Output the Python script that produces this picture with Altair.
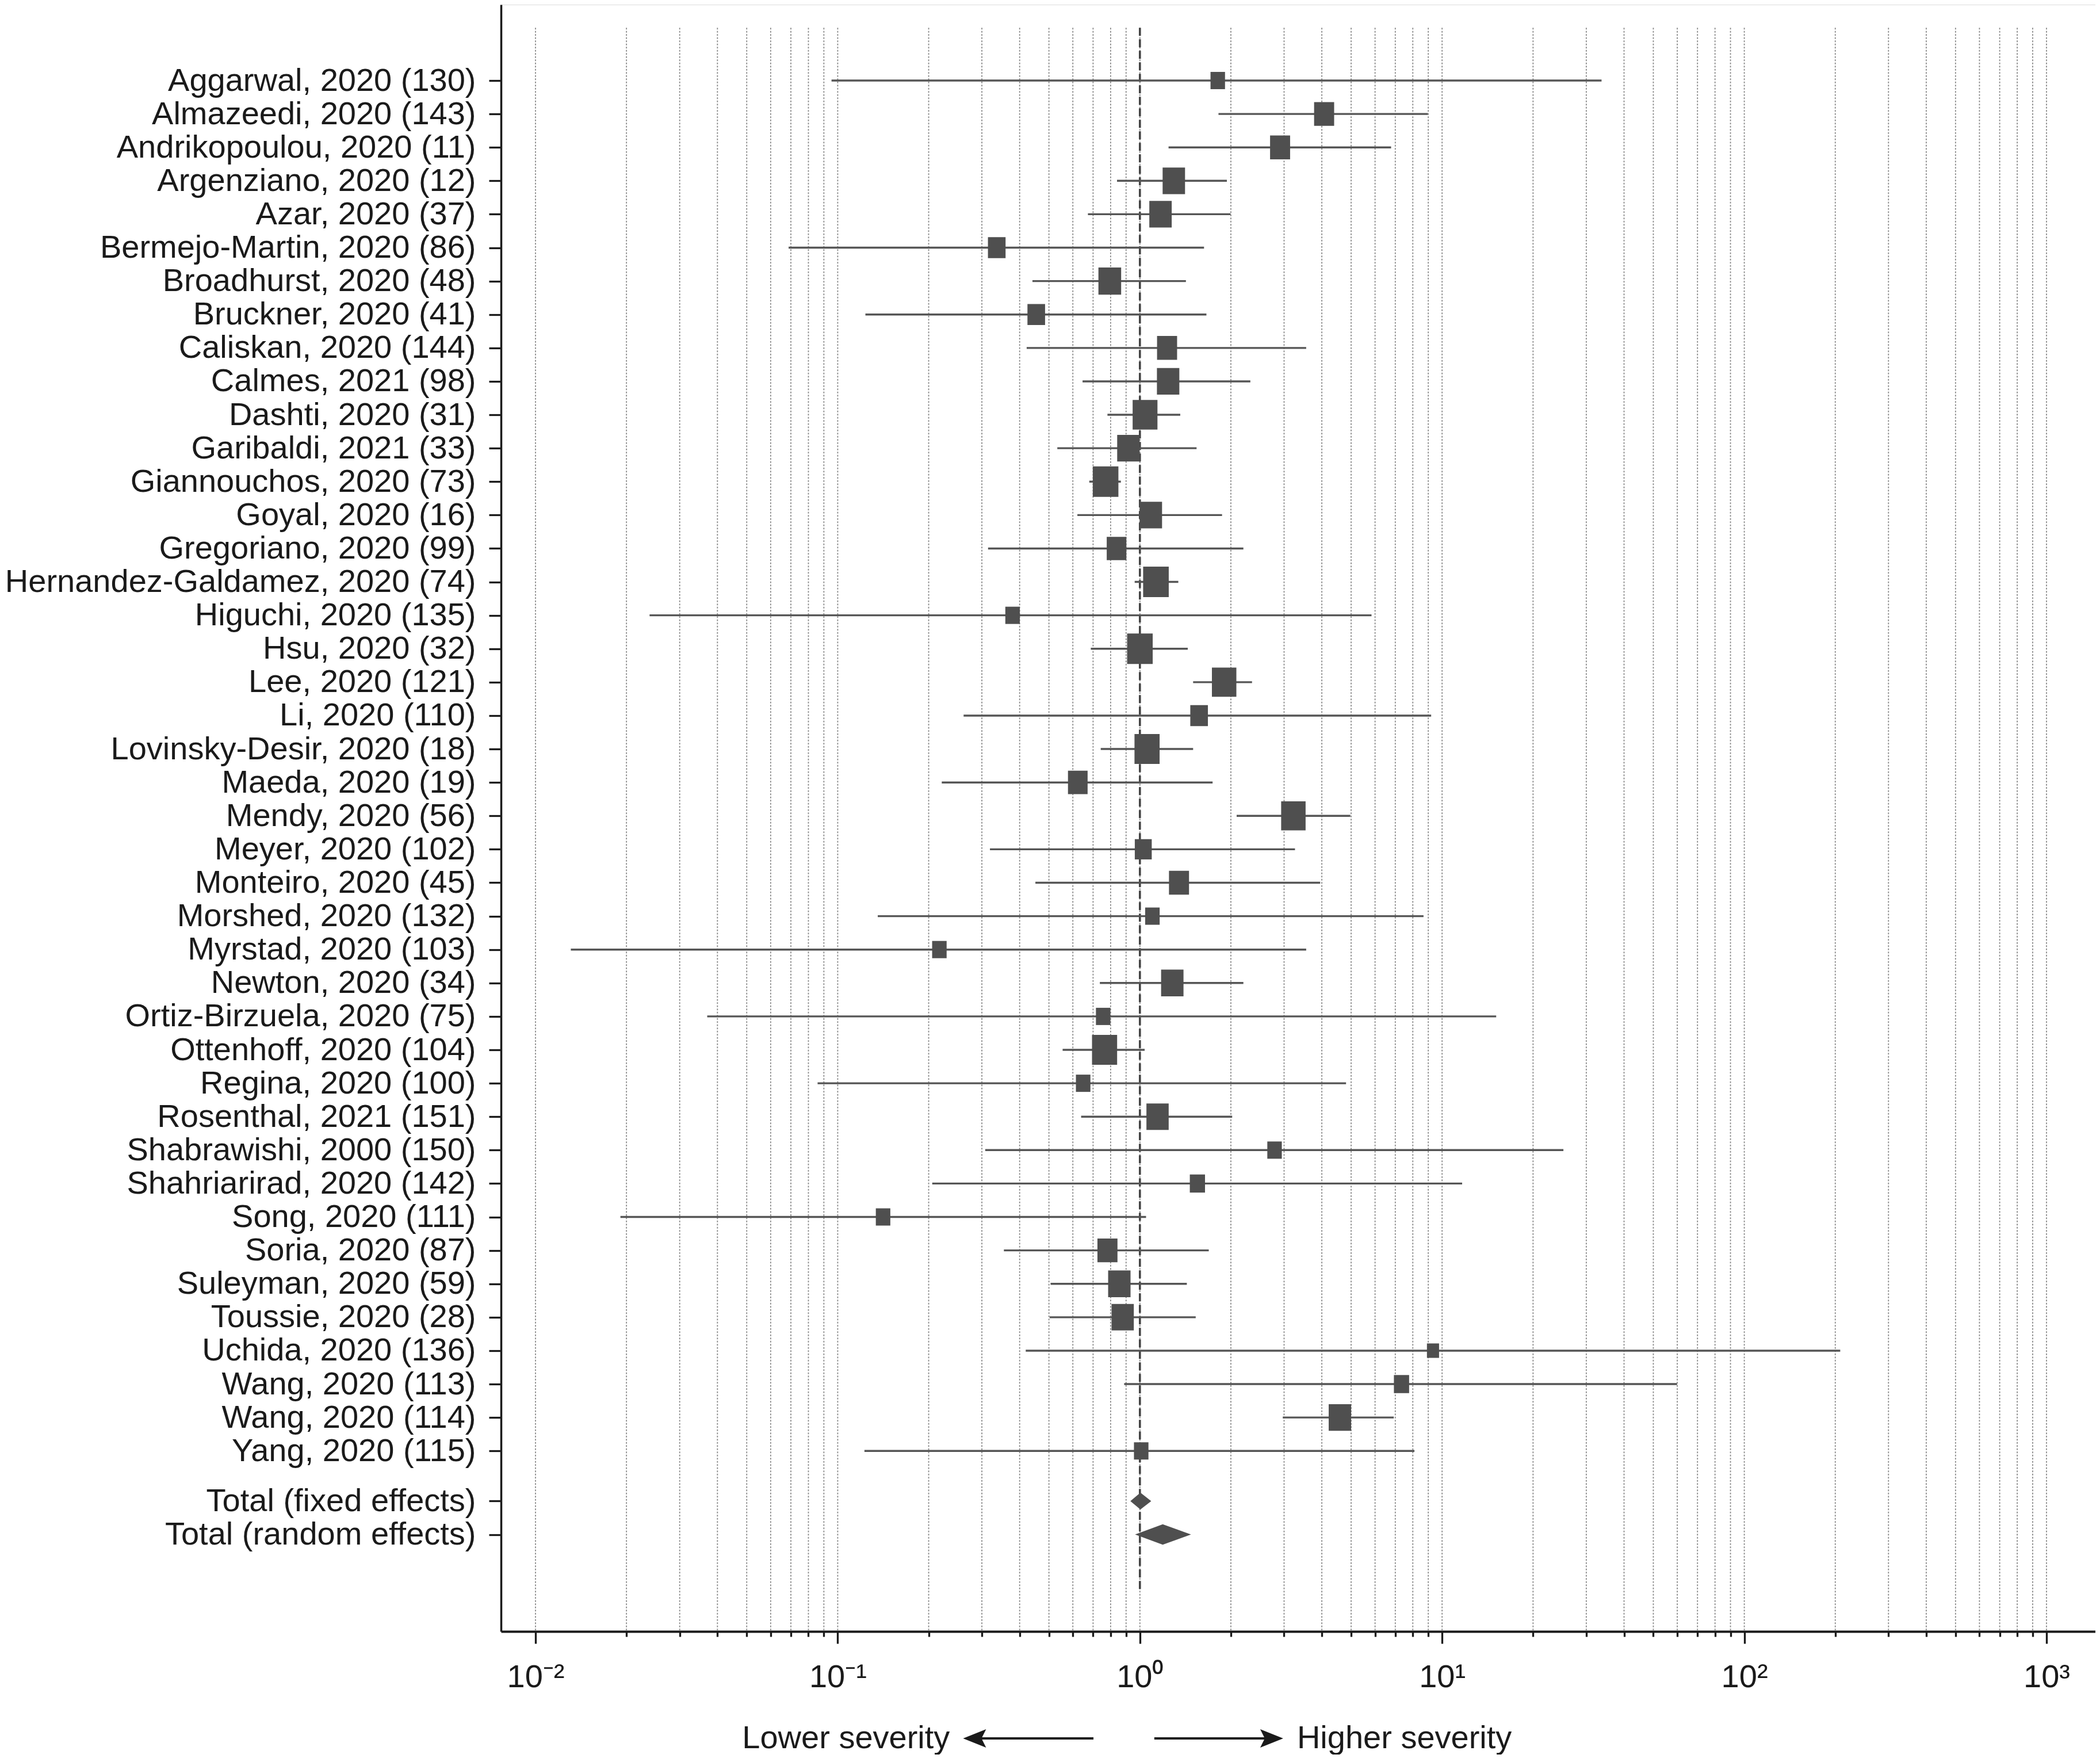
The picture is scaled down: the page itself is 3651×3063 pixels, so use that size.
import json
import math
import altair as alt
import pandas as pd

# ---------------- data ----------------
studies = [
    "Aggarwal, 2020 (130)", "Almazeedi, 2020 (143)", "Andrikopoulou, 2020 (11)",
    "Argenziano, 2020 (12)", "Azar, 2020 (37)", "Bermejo-Martin, 2020 (86)",
    "Broadhurst, 2020 (48)", "Bruckner, 2020 (41)", "Caliskan, 2020 (144)",
    "Calmes, 2021 (98)", "Dashti, 2020 (31)", "Garibaldi, 2021 (33)",
    "Giannouchos, 2020 (73)", "Goyal, 2020 (16)", "Gregoriano, 2020 (99)",
    "Hernandez-Galdamez, 2020 (74)", "Higuchi, 2020 (135)", "Hsu, 2020 (32)",
    "Lee, 2020 (121)", "Li, 2020 (110)", "Lovinsky-Desir, 2020 (18)",
    "Maeda, 2020 (19)", "Mendy, 2020 (56)", "Meyer, 2020 (102)",
    "Monteiro, 2020 (45)", "Morshed, 2020 (132)", "Myrstad, 2020 (103)",
    "Newton, 2020 (34)", "Ortiz-Birzuela, 2020 (75)", "Ottenhoff, 2020 (104)",
    "Regina, 2020 (100)", "Rosenthal, 2021 (151)", "Shabrawishi, 2000 (150)",
    "Shahriarirad, 2020 (142)", "Song, 2020 (111)", "Soria, 2020 (87)",
    "Suleyman, 2020 (59)", "Toussie, 2020 (28)", "Uchida, 2020 (136)",
    "Wang, 2020 (113)", "Wang, 2020 (114)", "Yang, 2020 (115)",
]
est = [1.81, 4.07, 2.91, 1.295, 1.17, 0.336, 0.795, 0.454, 1.23, 1.24,
       1.04, 0.916, 0.770, 1.087, 0.837, 1.13, 0.379, 1.00, 1.90, 1.57,
       1.056, 0.623, 3.22, 1.026, 1.347, 1.10, 0.217, 1.28, 0.756, 0.764,
       0.649, 1.144, 2.79, 1.55, 0.1413, 0.781, 0.855, 0.877, 9.33, 7.34,
       4.59, 1.01]
lo = [0.0954, 1.82, 1.244, 0.840, 0.673, 0.0688, 0.441, 0.1235, 0.422, 0.646,
      0.781, 0.533, 0.680, 0.621, 0.3145, 0.961, 0.02385, 0.688, 1.50, 0.261,
      0.742, 0.221, 2.09, 0.319, 0.451, 0.1357, 0.01309, 0.737, 0.0370, 0.555,
      0.0858, 0.639, 0.3077, 0.2055, 0.0191, 0.3548, 0.5064, 0.5027, 0.419, 0.887,
      2.97, 0.1226]
hi = [33.7, 8.97, 6.78, 1.94, 1.995, 1.63, 1.42, 1.66, 3.55, 2.32,
      1.36, 1.54, 0.865, 1.87, 2.20, 1.34, 5.84, 1.44, 2.35, 9.20,
      1.50, 1.74, 4.97, 3.26, 3.95, 8.68, 3.55, 2.20, 15.1, 1.037,
      4.81, 2.02, 25.2, 11.65, 1.048, 1.69, 1.43, 1.53, 207.7, 59.9,
      6.92, 8.10]
weights = [9.0, 17.2, 17.2, 21.5, 21.5, 13.3, 22.1, 13.3, 17.2, 21.5,
           26.4, 21.5, 28.1, 21.5, 16.5, 28.1, 9.0, 28.1, 25.6, 13.3,
           27.0, 16.5, 25.6, 12.3, 17.2, 9.0, 9.0, 21.5, 9.0, 27.0,
           9.0, 21.2, 9.0, 9.9, 9.0, 17.2, 21.5, 21.2, 6.3, 9.9,
           21.5, 9.0]

total_labels = ["Total (fixed effects)", "Total (random effects)"]
total_est = [1.004, 1.19]
total_lo = [0.93, 0.964]
total_hi = [1.09, 1.476]

x_ticks = [round(m * 10.0 ** k, 6) for k in range(-2, 3) for m in range(1, 10)] + [1000.0]
exp_labels = ["10\u207b\u00b2", "10\u207b\u00b9", "10\u2070", "10\u00b9", "10\u00b2", "10\u00b3"]

arrow_text = ["Lower severity", "Higher severity"]

# ---------------- layout / style constants ----------------
FONT = "Liberation Sans"
INK = "#1a1a1a"
BOX = "#4f4f4f"
LINE = "#555555"
W, H = 2772, 2828
X_MIN_LOG, X_MAX_LOG = -2.1142, 3.1618
Y_TOP, Y_BOT = -2.272, 46.40
GRID_TOP = -1.58
REF_BOT = 45.2
ARROW_Y = 49.6
DIAMOND_HALF = [0.25, 0.306]   # half height of the summary diamonds, in rows

n = len(studies)
rows = list(range(n))
total_rows = [n + 0.5, n + 1.5]
all_rows = rows + total_rows
all_labels = studies + total_labels

study_df = pd.DataFrame({"name": studies, "row": rows, "est": est,
                         "lo": lo, "hi": hi, "weight": weights})

# diamonds: symbol path built from the CI through the same log scale
px_per_log = W / (X_MAX_LOG - X_MIN_LOG)
px_per_row = H / (Y_BOT - Y_TOP)
dia_recs = []
for i in range(2):
    dl = (math.log10(total_lo[i]) - math.log10(total_est[i])) * px_per_log
    dr = (math.log10(total_hi[i]) - math.log10(total_est[i])) * px_per_log
    hh = DIAMOND_HALF[i] * px_per_row
    path = f"M{dl:.2f},0L0,{-hh:.2f}L{dr:.2f},0L0,{hh:.2f}Z"
    dia_recs.append({"est": total_est[i], "row": total_rows[i], "shape": path})
dia_df = pd.DataFrame(dia_recs)

grid_df = pd.DataFrame({"v": x_ticks, "y0": GRID_TOP, "y1": Y_BOT})
ref_df = pd.DataFrame({"v": [1.0], "y0": [GRID_TOP], "y1": [REF_BOT]})

arrow_df = pd.DataFrame({
    "x": [0.702, 1.116], "x2": [0.284, 2.73], "tip": [0.260, 2.98],
    "y": [ARROW_Y, ARROW_Y],
    "shape": ["M0,0L2,-0.8L1.6,0L2,0.8Z", "M0,0L-2,-0.8L-1.6,0L-2,0.8Z"],
})
txt_left = pd.DataFrame({"x": [0.235], "y": [ARROW_Y], "t": [arrow_text[0]]})
txt_right = pd.DataFrame({"x": [3.31], "y": [ARROW_Y], "t": [arrow_text[1]]})

# ---------------- scales and axes ----------------
xscale = alt.Scale(type="log", domain=[10 ** X_MIN_LOG, 10 ** X_MAX_LOG], nice=False, zero=False)
yscale = alt.Scale(domain=[Y_TOP, Y_BOT], reverse=True, nice=False, zero=False)

is_major = "abs(log(datum.value)/LN10 - round(log(datum.value)/LN10)) < 0.001"
xaxis = alt.Axis(
    values=x_ticks, title=None, grid=False,
    labelExpr=f"{is_major} ? {json.dumps(exp_labels, ensure_ascii=False)}[round(log(datum.value)/LN10) + 2] : ''",
    tickSize={"condition": {"test": is_major, "value": 21}, "value": 9},
    tickWidth=3.3, tickColor=INK, domainColor=INK, domainWidth=4,
    labelFont=FONT, labelFontSize=56, labelColor=INK, labelPadding=31,
    labelOverlap=False, labelFlush=False, labelBound=False,
)
yaxis = alt.Axis(
    values=all_rows, title=None, grid=False,
    labelExpr=f"{json.dumps(all_labels, ensure_ascii=False)}[floor(datum.value)]",
    tickSize=21, tickWidth=3.3, tickColor=INK, domainColor=INK, domainWidth=3.5,
    labelFont=FONT, labelFontSize=56, labelColor=INK, labelPadding=23,
    labelLimit=3000, labelOverlap=False, labelBound=False,
)

def X(f):
    return alt.X(f, type="quantitative", scale=xscale, axis=xaxis)

def Y(f):
    return alt.Y(f, type="quantitative", scale=yscale, axis=yaxis)

grid = alt.Chart(grid_df).mark_rule(color="#8a8a8a", strokeWidth=1.8, strokeDash=[3, 2.5]).encode(
    x=X("v"), y=Y("y0"), y2="y1")

ref = alt.Chart(ref_df).mark_rule(color="#444444", strokeWidth=3.6, strokeDash=[14, 6]).encode(
    x=X("v"), y=Y("y0"), y2="y1")

ci = alt.Chart(study_df).mark_rule(color=LINE, strokeWidth=3.4).encode(
    x=X("lo"), x2="hi", y=Y("row"))

boxes = alt.Chart(study_df).mark_point(
    shape="M-0.84,-1L0.84,-1L0.84,1L-0.84,1Z", filled=True, color=BOX,
    opacity=1, strokeWidth=0).encode(
    x=X("est"), y=Y("row"),
    size=alt.Size("weight:Q", scale=alt.Scale(domain=[0, 30], range=[0, 3000]), legend=None))

diamonds = alt.Chart(dia_df).mark_point(filled=True, color=BOX, opacity=1, strokeWidth=0, size=4).encode(
    x=X("est"), y=Y("row"), shape=alt.Shape("shape:N", scale=None, legend=None))

arrow_lines = alt.Chart(arrow_df).mark_rule(color=INK, strokeWidth=4).encode(
    x=X("x"), x2="x2", y=Y("y"))

arrow_heads = alt.Chart(arrow_df).mark_point(filled=True, color=INK, opacity=1, strokeWidth=0, size=1600).encode(
    x=X("tip"), y=Y("y"), shape=alt.Shape("shape:N", scale=None, legend=None))

t_left = alt.Chart(txt_left).mark_text(font=FONT, fontSize=56, color=INK, align="right", baseline="middle").encode(
    x=X("x"), y=Y("y"), text="t:N")
t_right = alt.Chart(txt_right).mark_text(font=FONT, fontSize=56, color=INK, align="left", baseline="middle").encode(
    x=X("x"), y=Y("y"), text="t:N")

chart = alt.layer(grid, ref, ci, boxes, diamonds, arrow_lines, arrow_heads, t_left, t_right).properties(
    width=W, height=H, padding=0
).configure_view(stroke=None).configure(background="white")

chart.save("out.html", embed_options={"renderer": "svg", "actions": False})
